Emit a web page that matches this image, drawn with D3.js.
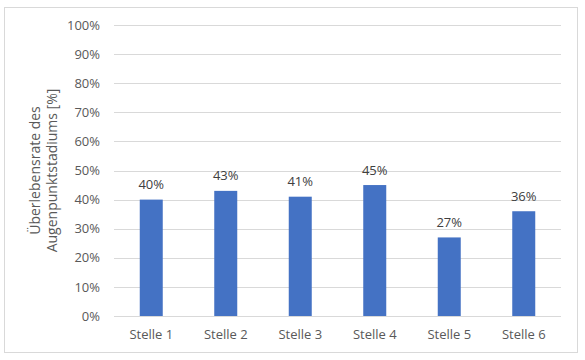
<!DOCTYPE html>
<html>
<head>
<meta charset="utf-8">
<script src="https://cdn.jsdelivr.net/npm/d3@7"></script>
<style>
  html, body { margin: 0; padding: 0; background: #fff; }
  svg { display: block; font-family: "Open Sans", sans-serif; }
</style>
</head>
<body>
<svg id="chart" width="585" height="360"></svg>
<script>
const categories = ["Stelle 1", "Stelle 2", "Stelle 3", "Stelle 4", "Stelle 5", "Stelle 6"];
const values = [0.40, 0.43, 0.41, 0.45, 0.27, 0.36];
const yTicks = [0, 0.1, 0.2, 0.3, 0.4, 0.5, 0.6, 0.7, 0.8, 0.9, 1.0];
const yTitleLines = ["Überlebensrate des", "Augenpunktstadiums [%]"];

(function () {
const svg = d3.select("#chart");
const mLeft = 114, mRight = 561, mTop = 25, mBottom = 316;
const fontFam = "'Open Sans', sans-serif";

svg.append("rect").attr("x", 4.5).attr("y", 7.5).attr("width", 573).attr("height", 345)
  .attr("fill", "#fff").attr("stroke", "#d9d9d9").attr("stroke-width", 1);

const x = d3.scaleBand().domain(categories).range([mLeft, mRight]).paddingInner(0).paddingOuter(0);
const y = d3.scaleLinear().domain([0, 1]).range([mBottom, mTop]);
const barW = 23;

// gridlines
svg.append("g").selectAll("line").data(yTicks).join("line")
  .attr("x1", mLeft).attr("x2", mRight)
  .attr("y1", d => Math.round(y(d)) + 0.5).attr("y2", d => Math.round(y(d)) + 0.5)
  .attr("stroke", "#d9d9d9").attr("stroke-width", 1);

// y axis labels
const yAxis = d3.axisLeft(y).tickValues(yTicks).tickFormat(d3.format(".0%")).tickSize(0).tickPadding(0);
const gy = svg.append("g").attr("transform", `translate(${mLeft - 14},0)`).call(yAxis);
gy.select(".domain").remove();
gy.selectAll("text").attr("fill", "#595959").style("font-size", "13px").style("font-family", fontFam);

// bars
svg.append("g").selectAll("rect").data(values).join("rect")
  .attr("x", (d, i) => x(categories[i]) + x.bandwidth() / 2 - barW / 2)
  .attr("width", barW)
  .attr("y", d => y(d))
  .attr("height", d => y(0) - y(d))
  .attr("fill", "#4472C4");

// data labels
svg.append("g").selectAll("text").data(values).join("text")
  .attr("x", (d, i) => x(categories[i]) + x.bandwidth() / 2)
  .attr("y", d => y(d) - 10.5)
  .attr("text-anchor", "middle")
  .attr("fill", "#404040")
  .style("font-size", "13px")
  .text(d => d3.format(".0%")(d));

// x axis
const xAxis = d3.axisBottom(x).tickSize(0).tickPadding(0);
const gx = svg.append("g").attr("transform", `translate(0,330)`).call(xAxis);
gx.select(".domain").remove();
gx.selectAll("text").attr("fill", "#595959").style("font-size", "13px").style("font-family", fontFam);

// y title
const yt = svg.append("text")
  .attr("transform", `translate(40,${(mTop + mBottom) / 2}) rotate(-90)`)
  .attr("text-anchor", "middle")
  .attr("fill", "#595959")
  .style("font-size", "14px");
yt.selectAll("tspan").data(yTitleLines).join("tspan")
  .attr("x", 0).attr("dy", (d, i) => i === 0 ? 0 : 16.5)
  .text(d => d);
})();
</script>
</body>
</html>
